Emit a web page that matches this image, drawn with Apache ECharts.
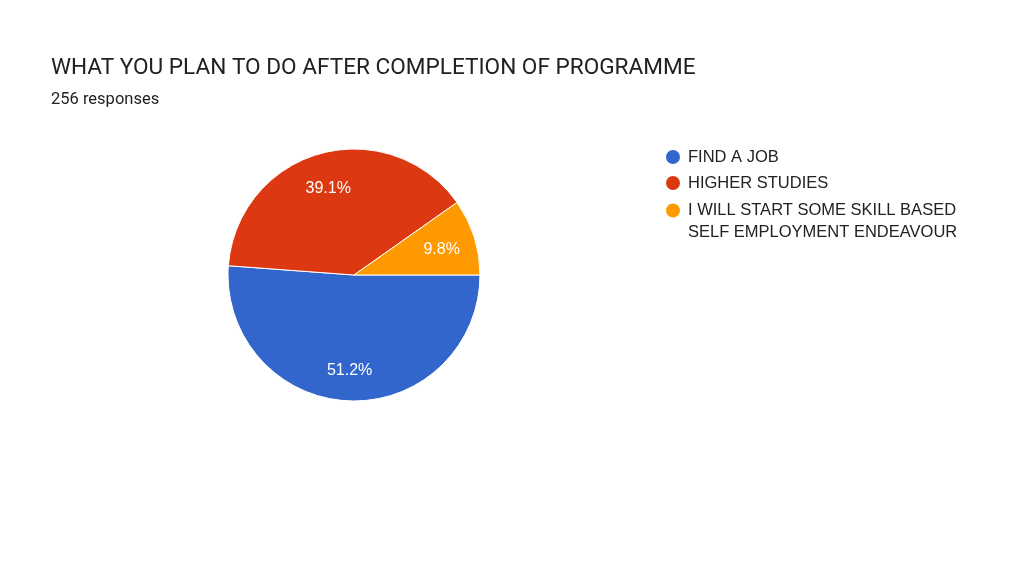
<!DOCTYPE html>
<html>
<head>
<meta charset="utf-8">
<script src="https://cdn.jsdelivr.net/npm/echarts@6/dist/echarts.min.js"></script>
<style>
  html, body { margin: 0; padding: 0; background: #fff; }
  #chart { width: 1024px; height: 576px; }
</style>
</head>
<body>
<div id="chart"></div>
<script>
// 数据
var categories = ['FIND A JOB', 'HIGHER STUDIES', 'I WILL START SOME SKILL BASED SELF EMPLOYMENT ENDEAVOUR'];
var legendLines = [['FIND A JOB'], ['HIGHER STUDIES'], ['I WILL START SOME SKILL BASED', 'SELF EMPLOYMENT ENDEAVOUR']];
var counts = [131, 100, 25];
var colors = ['#3366cc', '#dc3912', '#ff9900'];
var totalResponses = 256;

var pieData = categories.map(function (name, i) {
	return { name: name, value: counts[i], itemStyle: { color: colors[i] } };
});

// 图例文字：多行时前面加一个空行，让图标对齐第一行
function legendFormatter(name) {
	var lines = legendLines[categories.indexOf(name)];
	var out = lines.map(function (l) { return '{t|' + l + '}'; });
	if (lines.length > 1) out.unshift('{t| }');
	return out.join('\n');
}

var legendBase = {
	orient: 'vertical',
	left: 659,
	icon: 'circle',
	itemWidth: 16, itemHeight: 16,
	itemGap: 8,
	formatter: legendFormatter,
	textStyle: {
		fontFamily: 'Liberation Sans', fontSize: 16.5, color: '#222',
		rich: { t: { fontFamily: 'Liberation Sans', fontSize: 16.5, color: '#222', lineHeight: 22, padding: [0, 0, 0, 2] } }
	}
};

var myChart = echarts.init(document.getElementById('chart'));
var option = {
	animation: false,
	title: [
		{
			text: 'WHAT YOU PLAN TO DO AFTER COMPLETION OF PROGRAMME',
			left: 46, top: 52,
			textStyle: { fontFamily: 'Roboto', fontSize: 22.6, fontWeight: 'normal', color: '#212121' }
		},
		{
			text: totalResponses + ' responses',
			left: 46, top: 86,
			textStyle: { fontFamily: 'Roboto', fontSize: 16.5, fontWeight: 'normal', color: '#212121' }
		}
	],
	legend: [
		Object.assign({}, legendBase, { top: 143, data: categories.slice(0, 2) }),
		Object.assign({}, legendBase, { top: 175, data: categories.slice(2) })
	],
	series: [
		{
			type: 'pie',
			center: [354, 275],
			radius: [0, 126],
			startAngle: 0,
			clockwise: true,
			itemStyle: { borderColor: '#fff', borderWidth: 1 },
			label: { show: false },
			labelLine: { show: false },
			emphasis: { disabled: true },
			data: pieData
		},
		{
			// 百分比标签层
			type: 'pie',
			center: [354, 275],
			radius: [54, 126],
			startAngle: 0,
			clockwise: true,
			silent: true,
			legendHoverLink: false,
			itemStyle: { color: 'transparent', borderWidth: 0 },
			label: {
				show: true,
				position: 'inside',
				offset: [-1, 3],
				formatter: function (p) { return (p.value / totalResponses * 100).toFixed(1) + '%'; },
				fontFamily: 'Liberation Sans', fontSize: 16, color: '#fff'
			},
			labelLine: { show: false },
			emphasis: { disabled: true },
			data: categories.map(function (name, i) {
				return { name: name + ' ', value: counts[i] };
			})
		}
	]
};
myChart.setOption(option);
</script>
</body>
</html>
